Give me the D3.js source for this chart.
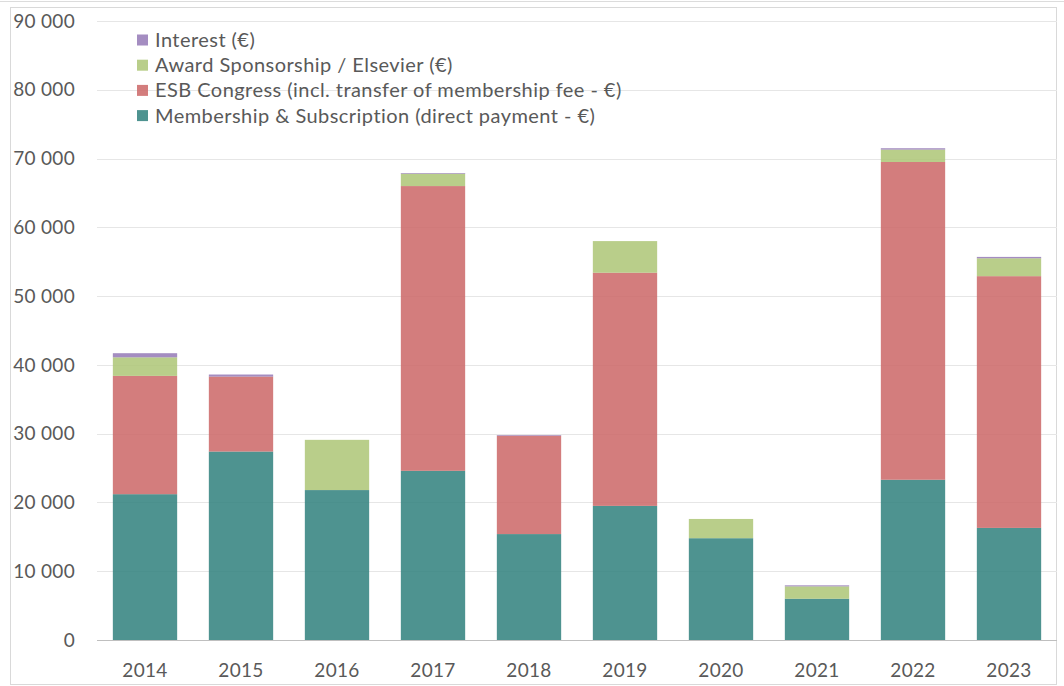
<!DOCTYPE html>
<html>
<head>
<meta charset="utf-8">
<script src="https://cdn.jsdelivr.net/npm/d3@7"></script>
<style>
  html, body { margin: 0; padding: 0; background: #fff; }
  svg { display: block; }
  text { font-family: Lato, "Open Sans", sans-serif; }
</style>
</head>
<body>
<svg id="chart" width="1064" height="686"></svg>
<script>
const years = ["2014","2015","2016","2017","2018","2019","2020","2021","2022","2023"];
const membership = [21200, 27400, 21800, 24600, 15400, 19500, 14800, 6000, 23300, 16300];
const congress   = [17200, 10900, 0, 41400, 14300, 33900, 0, 0, 46200, 36600];
const award      = [2700, 0, 7300, 1800, 0, 4600, 2800, 1800, 1800, 2600];
const interest   = [600, 300, 0, 100, 100, 0, 0, 150, 200, 200];
const seriesNames = [
  "Membership & Subscription (direct payment - €)",
  "ESB Congress (incl. transfer of membership fee - €)",
  "Award Sponsorship / Elsevier (€)",
  "Interest (€)"
];
const yTicks = [0, 10000, 20000, 30000, 40000, 50000, 60000, 70000, 80000, 90000];

const colors = ["#2f807c", "#cb6666", "#adc675", "#9479b6"];
const keys = ["membership", "congress", "award", "interest"];
const rows = years.map((yr, i) => ({
  year: yr, membership: membership[i], congress: congress[i], award: award[i], interest: interest[i]
}));

const svg = d3.select("#chart");
const plotLeft = 97, plotRight = 1057, plotTop = 21, plotBottom = 640;

const x = d3.scaleBand().domain(years).range([plotLeft, plotRight]).paddingInner(0.33).paddingOuter(0.165);
const y = d3.scaleLinear().domain([0, 90000]).range([plotBottom, plotTop]);

// outer frame
svg.append("line").attr("x1", 0).attr("x2", 1064).attr("y1", 1.5).attr("y2", 1.5)
  .attr("stroke", "#dcdcdc").attr("stroke-width", 1);
svg.append("rect").attr("x", 10.5).attr("y", 7.5).attr("width", 1046).attr("height", 677)
  .attr("fill", "none").attr("stroke", "#d9d9d9").attr("stroke-width", 1);

// gridlines
svg.append("g").selectAll("line").data(yTicks.filter(d => d > 0)).join("line")
  .attr("x1", plotLeft).attr("x2", plotRight)
  .attr("y1", d => Math.round(y(d)) + 0.5).attr("y2", d => Math.round(y(d)) + 0.5)
  .attr("stroke", "#e6e6e6").attr("stroke-width", 1);

// y labels
const fmt = v => d3.format(",")(v).replace(/,/g, "\u00a0");
svg.append("g").selectAll("text").data(yTicks).join("text")
  .attr("x", 75).attr("y", d => y(d)).attr("dy", "0.35em")
  .attr("text-anchor", "end").attr("fill", "#595959").attr("font-size", 19)
  .attr("letter-spacing", 0.3)
  .text(d => fmt(d));

// bars
const stack = d3.stack().keys(keys)(rows);
svg.append("g").selectAll("g").data(stack).join("g")
  .attr("fill", (d, i) => colors[i]).attr("fill-opacity", 0.85)
  .selectAll("rect").data(d => d).join("rect")
  .attr("x", d => x(d.data.year))
  .attr("width", x.bandwidth())
  .attr("y", d => y(d[1]))
  .attr("height", d => Math.max(0, y(d[0]) - y(d[1])));

// baseline
svg.append("line").attr("x1", plotLeft).attr("x2", plotRight)
  .attr("y1", plotBottom + 0.5).attr("y2", plotBottom + 0.5)
  .attr("stroke", "#bfbfbf").attr("stroke-width", 1);

// x labels
svg.append("g").selectAll("text").data(years).join("text")
  .attr("x", d => x(d) + x.bandwidth() / 2).attr("y", 670).attr("dy", "0.35em")
  .attr("text-anchor", "middle").attr("fill", "#595959").attr("font-size", 19)
  .attr("letter-spacing", 0.3)
  .text(d => d);

// legend (top-down: Interest, Award, Congress, Membership)
const legendOrder = [3, 2, 1, 0];
const lg = svg.append("g");
legendOrder.forEach((si, j) => {
  const cy = 40 + j * 25.2;
  lg.append("rect").attr("x", 137).attr("y", cy - 5.5).attr("width", 11).attr("height", 11)
    .attr("fill", colors[si]).attr("fill-opacity", 0.85);
  lg.append("text").attr("x", 155).attr("y", cy).attr("dy", "0.35em")
    .attr("fill", "#595959").attr("font-size", 20).attr("letter-spacing", 0.45)
    .text(seriesNames[si]);
});
</script>
</body>
</html>
